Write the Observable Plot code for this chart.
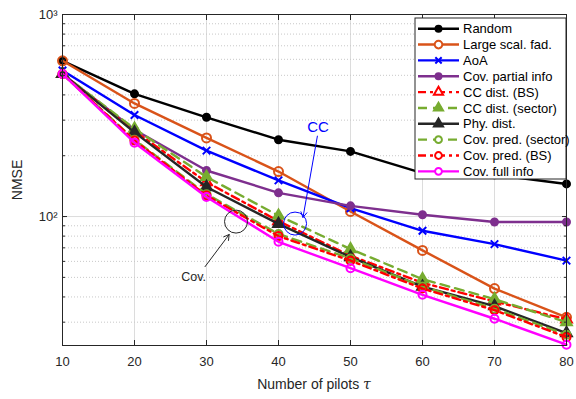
<!DOCTYPE html>
<html><head><meta charset="utf-8">
<script src="https://cdn.jsdelivr.net/npm/d3@7"></script>
<script src="https://cdn.jsdelivr.net/npm/@observablehq/plot@0.6"></script>
<style>body{margin:0;background:#fff;} svg{display:block;}</style>
</head><body><div id="chart"></div>
<script>
const tau = [10, 20, 30, 40, 50, 60, 70, 80];
const random = [590, 405, 310, 240, 210, 164, 161, 145];
const largeScaleFading = [590, 363, 245, 167, 106, 68, 44, 31.7];
const aoa = [528, 318, 212, 151, 110, 85, 73, 60.5];
const covPartial = [508, 269, 169, 131, 113, 102, 94, 94];
const ccDistBS = [508, 265, 148, 95, 64, 47, 38, 31];
const ccDistSector = [508, 272, 157, 101, 69, 49, 39, 30];
const phyDist = [508, 261, 140, 92, 63, 45, 36, 26.5];
const covPredSector = [508, 240, 129, 82, 62, 45, 35, 26];
const covPredBS = [508, 238, 127, 80, 60.5, 44, 34.4, 25.3];
const covFull = [508, 232, 125, 75, 55.5, 41, 31.2, 23.2];

const seriesNames = ["Random", "Large scal. fad.", "AoA", "Cov. partial info", "CC dist. (BS)", "CC dist. (sector)", "Phy. dist.", "Cov. pred. (sector)", "Cov. pred. (BS)", "Cov. full info"];
const seriesValues = [random, largeScaleFading, aoa, covPartial, ccDistBS, ccDistSector, phyDist, covPredSector, covPredBS, covFull];

const xTicks = [10, 20, 30, 40, 50, 60, 70, 80];
const yMajor = [100, 1000];
const yMinor = [30, 40, 50, 60, 70, 80, 90, 200, 300, 400, 500, 600, 700, 800, 900];

// annotations (data coordinates)
const noteLabels = ["Cov.", "CC"];
const noteTau = [28.2, 45.5];
const noteNmse = [50, 276];
const noteColors = ["#262626", "#0000FF"];
const ringTau = [34.1, 42.3];
const ringNmse = [94.4, 92.3];
const arrowFromTau = [29.8, 45.4];
const arrowFromNmse = [56.5, 250];
const arrowToTau = [33.15, 43.4];
const arrowToNmse = [81.5, 99];

const styles = [
  {color: "#000000", dash: null, symbol: "circle", fill: "#000000", r: 3.5},
  {color: "#D95319", dash: null, symbol: "circle", fill: "none", r: 4.5},
  {color: "#0000FF", dash: null, symbol: "times", fill: "none", r: 3.5},
  {color: "#7E2F8E", dash: null, symbol: "circle", fill: "#7E2F8E", r: 3.5},
  {color: "#FF0000", dash: "8,4,3,4", symbol: "triangle", fill: "none", r: 4},
  {color: "#77AC30", dash: "9,6", symbol: "triangle", fill: "#77AC30", r: 4},
  {color: "#262626", dash: null, symbol: "triangle", fill: "#262626", r: 4},
  {color: "#77AC30", dash: "9,6", symbol: "circle", fill: "none", r: 4},
  {color: "#FF0000", dash: "8,4,3,4", symbol: "circle", fill: "none", r: 4},
  {color: "#FF00FF", dash: null, symbol: "circle", fill: "none", r: 4}
];

const data = [];
seriesNames.forEach((name, i) => tau.forEach((t, j) => data.push({series: name, idx: i, tau: t, nmse: seriesValues[i][j]})));

const notes = noteLabels.map((l, i) => ({label: l, tau: noteTau[i], nmse: noteNmse[i], color: noteColors[i],
  rt: ringTau[i], rn: ringNmse[i], x1: arrowFromTau[i], y1: arrowFromNmse[i], x2: arrowToTau[i], y2: arrowToNmse[i]}));

const marks = [
  Plot.ruleX(xTicks, {stroke: "#dcdcdc", strokeWidth: 1}),
  Plot.ruleY(yMinor, {stroke: "#c8c8c8", strokeDasharray: "1,2", strokeWidth: 1}),
  Plot.ruleY(yMajor, {stroke: "#dcdcdc", strokeWidth: 1}),
];
seriesNames.forEach((name, i) => {
  const s = styles[i];
  const d = data.filter(r => r.idx === i);
  marks.push(Plot.line(d, {x: "tau", y: "nmse", stroke: s.color, strokeWidth: 2.4, strokeDasharray: s.dash}));
  marks.push(Plot.dot(d, {x: "tau", y: "nmse", stroke: s.color, fill: s.fill, r: s.r, symbol: s.symbol, strokeWidth: 2}));
});
marks.push(
  Plot.dot(notes, {x: "rt", y: "rn", r: 11.5, stroke: "color", fill: "none", strokeWidth: 1}),
  Plot.arrow(notes, {x1: "x1", y1: "y1", x2: "x2", y2: "y2", stroke: "color", strokeWidth: 1, headLength: 9}),
  Plot.text(notes, {x: "tau", y: "nmse", text: "label", fill: "color", fontSize: d => d.label === "CC" ? 15 : 12.5}),
  Plot.frame({stroke: "#262626", strokeWidth: 1}),
  Plot.axisX(xTicks, {anchor: "bottom", tickSize: -5, tickFormat: () => "", label: null, stroke: "#262626"}),
  Plot.axisX(xTicks, {anchor: "top", tickSize: -5, tickFormat: () => "", label: null, stroke: "#262626"}),
  Plot.axisX(xTicks, {anchor: "bottom", tickSize: 0, tickPadding: 11, label: null, fontSize: 13, fill: "#262626"}),
  Plot.axisY(yMinor.concat(yMajor), {anchor: "left", tickSize: -3, tickFormat: () => "", label: null, stroke: "#262626"}),
  Plot.axisY(yMinor.concat(yMajor), {anchor: "right", tickSize: -3, tickFormat: () => "", label: null, stroke: "#262626"}),
  Plot.axisY(yMajor, {anchor: "left", tickSize: -5, tickFormat: () => "", label: null, stroke: "#262626"}),
  Plot.axisY(yMajor, {anchor: "right", tickSize: -5, tickFormat: () => "", label: null, stroke: "#262626"}),
  Plot.axisY(yMajor, {anchor: "left", tickSize: 0, tickPadding: 5, label: null, fontSize: 13, fill: "#262626",
    tickFormat: d => d === 1000 ? "10³" : "10²"})
);

const chart = Plot.plot({
  width: 576, height: 399,
  marginLeft: 62, marginRight: 10, marginTop: 14, marginBottom: 54,
  style: {fontFamily: "'Liberation Sans', Arial, sans-serif", background: "#fff"},
  x: {domain: [10, 80]},
  y: {type: "log", domain: [23, 1000]},
  marks
});
document.getElementById("chart").appendChild(chart);

const svg = d3.select(chart);
const ff = "'Liberation Sans', Arial, sans-serif";
// axis labels
const xl = svg.append("text").attr("x", 314).attr("y", 389).attr("text-anchor", "middle")
  .attr("font-family", ff).attr("font-size", 14).attr("fill", "#262626");
xl.append("tspan").text("Number of pilots ");
xl.append("tspan").attr("font-family", "'DejaVu Serif', serif").attr("font-style", "italic").text("τ");
svg.append("text").attr("transform", "translate(22,180) rotate(-90)").attr("text-anchor", "middle")
  .attr("font-family", ff).attr("font-size", 14).attr("fill", "#262626").text("NMSE");

// legend
const lg = svg.append("g").attr("text-anchor", "start");
const lx = 415, ly = 18, lw = 151, lh = 161, rowH = 15.85, row0 = 28.7;
lg.append("rect").attr("x", lx).attr("y", ly).attr("width", lw).attr("height", lh)
  .attr("fill", "#fff").attr("stroke", "#262626").attr("stroke-width", 1);
const symMap = {circle: d3.symbolCircle, triangle: d3.symbolTriangle, times: d3.symbolTimes};
seriesNames.forEach((name, i) => {
  const s = styles[i];
  const y = row0 + i * rowH;
  lg.append("line").attr("x1", 418).attr("x2", 459).attr("y1", y).attr("y2", y)
    .attr("stroke", s.color).attr("stroke-width", 2.4).attr("stroke-dasharray", s.dash);
  const rr = s.r * 0.85;
  lg.append("path").attr("transform", `translate(438.5,${y})`)
    .attr("d", d3.symbol(symMap[s.symbol], rr * rr * Math.PI)())
    .attr("stroke", s.color).attr("stroke-width", 2).attr("fill", s.fill === "none" ? "#fff" : s.fill);
  lg.append("text").attr("x", 463).attr("y", y).attr("dy", "0.35em").attr("text-anchor", "start")
    .attr("font-family", ff).attr("font-size", 13).attr("fill", "#000").text(name);
});
</script>
</body></html>
